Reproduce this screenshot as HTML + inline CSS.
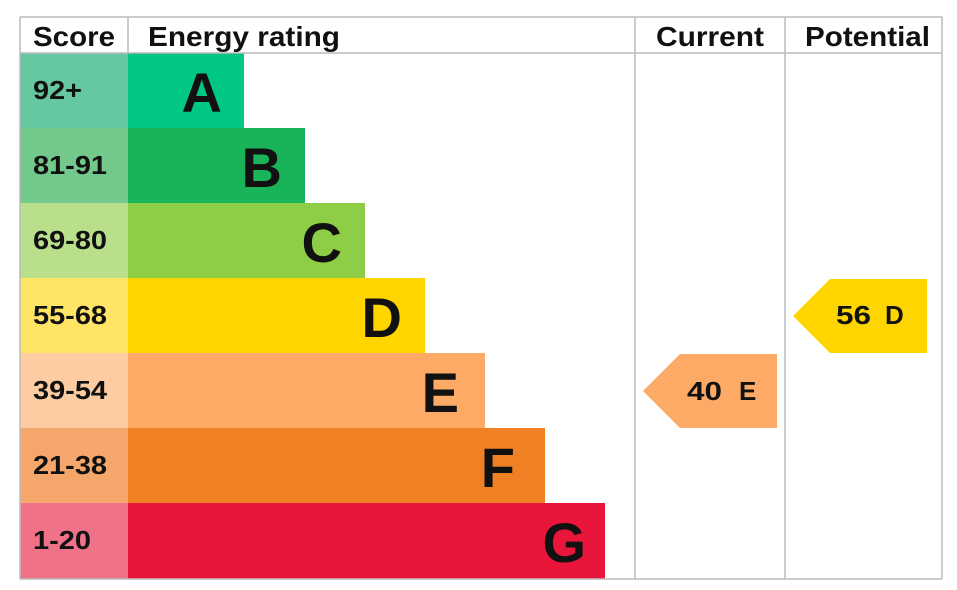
<!DOCTYPE html>
<html><head><meta charset="utf-8"><style>
html,body{margin:0;padding:0;background:#fff;width:957px;height:590px;overflow:hidden}
svg{display:block}
text{font-family:"Liberation Sans",Arial,sans-serif;font-weight:bold;fill:#111}
</style></head><body>
<svg width="957" height="590" viewBox="0 0 957 590" xmlns="http://www.w3.org/2000/svg">
<rect x="0" y="0" width="957" height="590" fill="#fff"/>
<rect x="20" y="53" width="108" height="75" fill="#66c8a1"/>
<rect x="20" y="128" width="108" height="75" fill="#72c98b"/>
<rect x="20" y="203" width="108" height="75" fill="#b9df8a"/>
<rect x="20" y="278" width="108" height="75" fill="#ffe466"/>
<rect x="20" y="353" width="108" height="75" fill="#fdcca3"/>
<rect x="20" y="428" width="108" height="75" fill="#f4a66b"/>
<rect x="20" y="503" width="108" height="76" fill="#f07289"/>
<rect x="128" y="53" width="116" height="75" fill="#00c781"/>
<rect x="128" y="128" width="177" height="75" fill="#19b459"/>
<rect x="128" y="203" width="237" height="75" fill="#8dce46"/>
<rect x="128" y="278" width="297" height="75" fill="#ffd500"/>
<rect x="128" y="353" width="357" height="75" fill="#fcaa65"/>
<rect x="128" y="428" width="417" height="75" fill="#ef8023"/>
<rect x="128" y="503" width="477" height="76" fill="#e9153b"/>
<g stroke="#bbb" stroke-width="1.5" fill="none">
<line x1="20" y1="17" x2="942" y2="17"/>
<line x1="20" y1="53" x2="942" y2="53"/>
<line x1="20" y1="579" x2="942" y2="579"/>
<line x1="20" y1="17" x2="20" y2="579"/>
<line x1="128" y1="17" x2="128" y2="53"/>
<line x1="635" y1="17" x2="635" y2="579"/>
<line x1="785" y1="17" x2="785" y2="579"/>
<line x1="942" y1="17" x2="942" y2="579"/>
</g>
<g font-size="28" lengthAdjust="spacingAndGlyphs">
<text x="33" y="46" textLength="82" lengthAdjust="spacingAndGlyphs">Score</text>
<text x="148" y="46" textLength="192" lengthAdjust="spacingAndGlyphs">Energy rating</text>
<text x="656" y="46" textLength="108" lengthAdjust="spacingAndGlyphs">Current</text>
<text x="805" y="46" textLength="125" lengthAdjust="spacingAndGlyphs">Potential</text>
</g>
<g font-size="26">
<text x="33" y="99" textLength="49" lengthAdjust="spacingAndGlyphs">92+</text>
<text x="33" y="174" textLength="74" lengthAdjust="spacingAndGlyphs">81-91</text>
<text x="33" y="249" textLength="74" lengthAdjust="spacingAndGlyphs">69-80</text>
<text x="33" y="324" textLength="74" lengthAdjust="spacingAndGlyphs">55-68</text>
<text x="33" y="399" textLength="74" lengthAdjust="spacingAndGlyphs">39-54</text>
<text x="33" y="474" textLength="74" lengthAdjust="spacingAndGlyphs">21-38</text>
<text x="33" y="549" textLength="58" lengthAdjust="spacingAndGlyphs">1-20</text>
</g>
<g font-size="56" text-anchor="end">
<text x="222" y="112">A</text>
<text x="282" y="187">B</text>
<text x="342" y="262">C</text>
<text x="402" y="337">D</text>
<text x="459" y="412">E</text>
<text x="515" y="487">F</text>
<text x="586" y="562">G</text>
</g>
<polygon points="643,391 680,354 777,354 777,428 680,428" fill="#fcaa65"/>
<text x="687" y="400" font-size="26" textLength="35" lengthAdjust="spacingAndGlyphs">40</text><text x="739" y="400" font-size="26">E</text>
<polygon points="793,316 830,279 927,279 927,353 830,353" fill="#ffd500"/>
<text x="836" y="324" font-size="26" textLength="35" lengthAdjust="spacingAndGlyphs">56</text><text x="885" y="324" font-size="26">D</text>
</svg>
</body></html>
